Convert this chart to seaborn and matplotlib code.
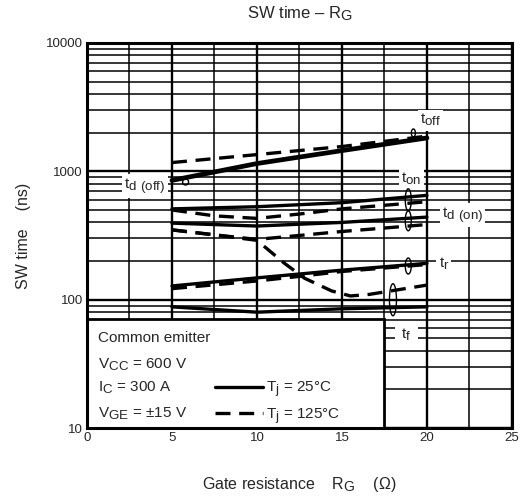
import numpy as np
import pandas as pd
import matplotlib
matplotlib.use("Agg")
import matplotlib.pyplot as plt
import matplotlib._mathtext as mtx
import seaborn as sns
from matplotlib.patches import Rectangle, Ellipse
from matplotlib.lines import Line2D
from matplotlib.ticker import MultipleLocator, LogLocator, NullFormatter, FixedLocator

# subscritos quase do tamanho do texto, como no datasheet
mtx.SHRINK_FACTOR = 0.88

# ---- dados (RG em ohm, tempos em ns) ----
rg_toff_25 = [5, 10, 15, 20]
toff_25 = [850, 1150, 1450, 1820]
rg_toff_125 = [5, 10, 15, 20]
toff_125 = [1170, 1350, 1560, 1880]

rg_ton_25 = [5, 10, 15, 20]
ton_25 = [510, 530, 570, 650]
rg_ton_125 = [5, 7.5, 10, 12.5, 15, 20]
ton_125 = [500, 450, 430, 465, 510, 580]

rg_tdon_25 = [5, 10, 15, 20]
tdon_25 = [395, 375, 400, 440]
rg_tdon_125 = [5, 7.5, 10, 15, 20]
tdon_125 = [350, 320, 295, 340, 385]

rg_tr_25 = [5, 10, 15, 20]
tr_25 = [128, 148, 170, 192]
rg_tr_125 = [5, 10, 12.5, 15, 20]
tr_125 = [122, 140, 152, 166, 188]

rg_tf_25 = [5, 10, 15, 20]
tf_25 = [88, 80, 85, 88]
rg_tf_125 = [5, 7.5, 10, 11.6, 12.8, 14.4, 15.5, 16.6, 20]
tf_125 = [350, 320, 290, 193, 147, 117, 107, 110, 130]

curvas = [
    (rg_toff_25, toff_25, "-", 3.4), (rg_toff_125, toff_125, "--", 2.4),
    (rg_ton_25, ton_25, "-", 2.4), (rg_ton_125, ton_125, "--", 2.4),
    (rg_tdon_25, tdon_25, "-", 2.4), (rg_tdon_125, tdon_125, "--", 2.4),
    (rg_tr_25, tr_25, "-", 2.4), (rg_tr_125, tr_125, "--", 2.4),
    (rg_tf_25, tf_25, "-", 2.4), (rg_tf_125, tf_125, "--", 2.4),
]

sns.set_style("white")
plt.rcParams["font.family"] = ["Liberation Sans", "DejaVu Sans"]
plt.rcParams["mathtext.fontset"] = "custom"
plt.rcParams["mathtext.rm"] = "Liberation Sans"

fig = plt.figure(figsize=(5.24, 4.99), dpi=100)
ax = fig.add_axes([0.166, 0.142, 0.811, 0.772])

ax.set_yscale("log")
ax.set_xlim(0, 25)
ax.set_ylim(10, 10000)

# grade estilo datasheet
ax.xaxis.set_major_locator(MultipleLocator(5))
ax.xaxis.set_minor_locator(MultipleLocator(2.5))
ax.yaxis.set_major_locator(FixedLocator([10, 100, 1000, 10000]))
ax.yaxis.set_minor_locator(LogLocator(base=10, subs=np.arange(2, 10)))
ax.yaxis.set_minor_formatter(NullFormatter())
ax.set_yticklabels(["10", "100", "1000", "10000"])
ax.grid(which="major", color="black", lw=1.7)
ax.grid(which="minor", color="black", lw=1.1)
ax.set_axisbelow(True)
ax.tick_params(which="both", length=0, labelsize=9.5, pad=3)
for s in ax.spines.values():
    s.set_linewidth(2.2)
    s.set_color("black")

for xs, ys, ls, lw in curvas:
    df = pd.DataFrame({"rg": xs, "t": ys})
    sns.lineplot(data=df, x="rg", y="t", ax=ax, color="black", lw=lw,
                 linestyle=ls, zorder=3)
    if ls == "--":
        ax.lines[-1].set_dashes((4.5, 2.6))

# caixa das condições
ax.add_patch(Rectangle((0, 10), 17.5, 60.5, facecolor="white", edgecolor="black",
                       lw=2.0, zorder=2.5))
fs = 11
ax.text(0.65, 50, "Common emitter", fontsize=fs, va="center", zorder=4)
ax.text(0.65, 31.0, r"$\mathregular{V_{CC}}$ = 600 V", fontsize=fs, va="center", zorder=4)
ax.text(0.65, 20.6, r"$\mathregular{I_{C}}$ = 300 A", fontsize=fs, va="center", zorder=4)
ax.text(0.65, 12.9, r"$\mathregular{V_{GE}}$ = ±15 V", fontsize=fs, va="center", zorder=4)
handles = [Line2D([], [], color="black", lw=2.4),
           Line2D([], [], color="black", lw=2.4, dashes=(4.5, 2.6))]
leg = ax.legend(handles, [r"$\mathregular{T_j}$ = 25°C", r"$\mathregular{T_j}$ = 125°C"],
                loc="lower left", bbox_to_anchor=(0.275, -0.022), frameon=False,
                fontsize=fs, handlelength=3.2, handletextpad=0.15, labelspacing=0.45,
                borderaxespad=0.3)
leg.set_zorder(4)

# rótulos das curvas
box = dict(facecolor="white", edgecolor="none", pad=1.5)
rot = [
    (20.2, 2500, r"$\mathregular{t_{off}}$", 1.5),
    (19.1, 880, r"$\mathregular{t_{on}}$", 1.5),
    (22.1, 455, r"$\mathregular{t_{d\ (on)}}$", 1.5),
    (21.0, 192, r"$\mathregular{t_{r}}$", 1.5),
    (18.8, 53, r"$\mathregular{t_{f}}$", 4.5),
    (3.4, 765, r"$\mathregular{t_{d\ (off)}}$", 1.5),
]
for x, y, t, p in rot:
    ax.text(x, y, t, fontsize=fs, ha="center", va="center",
            bbox=dict(box, pad=p), zorder=4)

# elipses de agrupamento (em fração dos eixos)
def frac(x, v):
    return x / 25, np.log10(v / 10) / 3

for x, v, w, h in [(19.2, 1990, 4, 8), (18.9, 600, 6, 22), (18.9, 412, 6, 20),
                   (18.9, 183, 6, 16), (18.0, 100, 7, 32), (5.8, 826, 6, 6)]:
    cx, cy = frac(x, v)
    ax.add_patch(Ellipse((cx, cy), w / 425, h / 385, transform=ax.transAxes,
                         facecolor="none", edgecolor="black", lw=1.0, zorder=4))

ax.set_title(r"SW time – $\mathregular{R_G}$", fontsize=12, pad=18)
ax.set_xlabel(r"Gate resistance    $\mathregular{R_G}$    (Ω)", fontsize=11.5, labelpad=22)
ax.set_ylabel("SW time    (ns)", fontsize=11.5, labelpad=11)

plt.savefig("out.png", dpi=100)
